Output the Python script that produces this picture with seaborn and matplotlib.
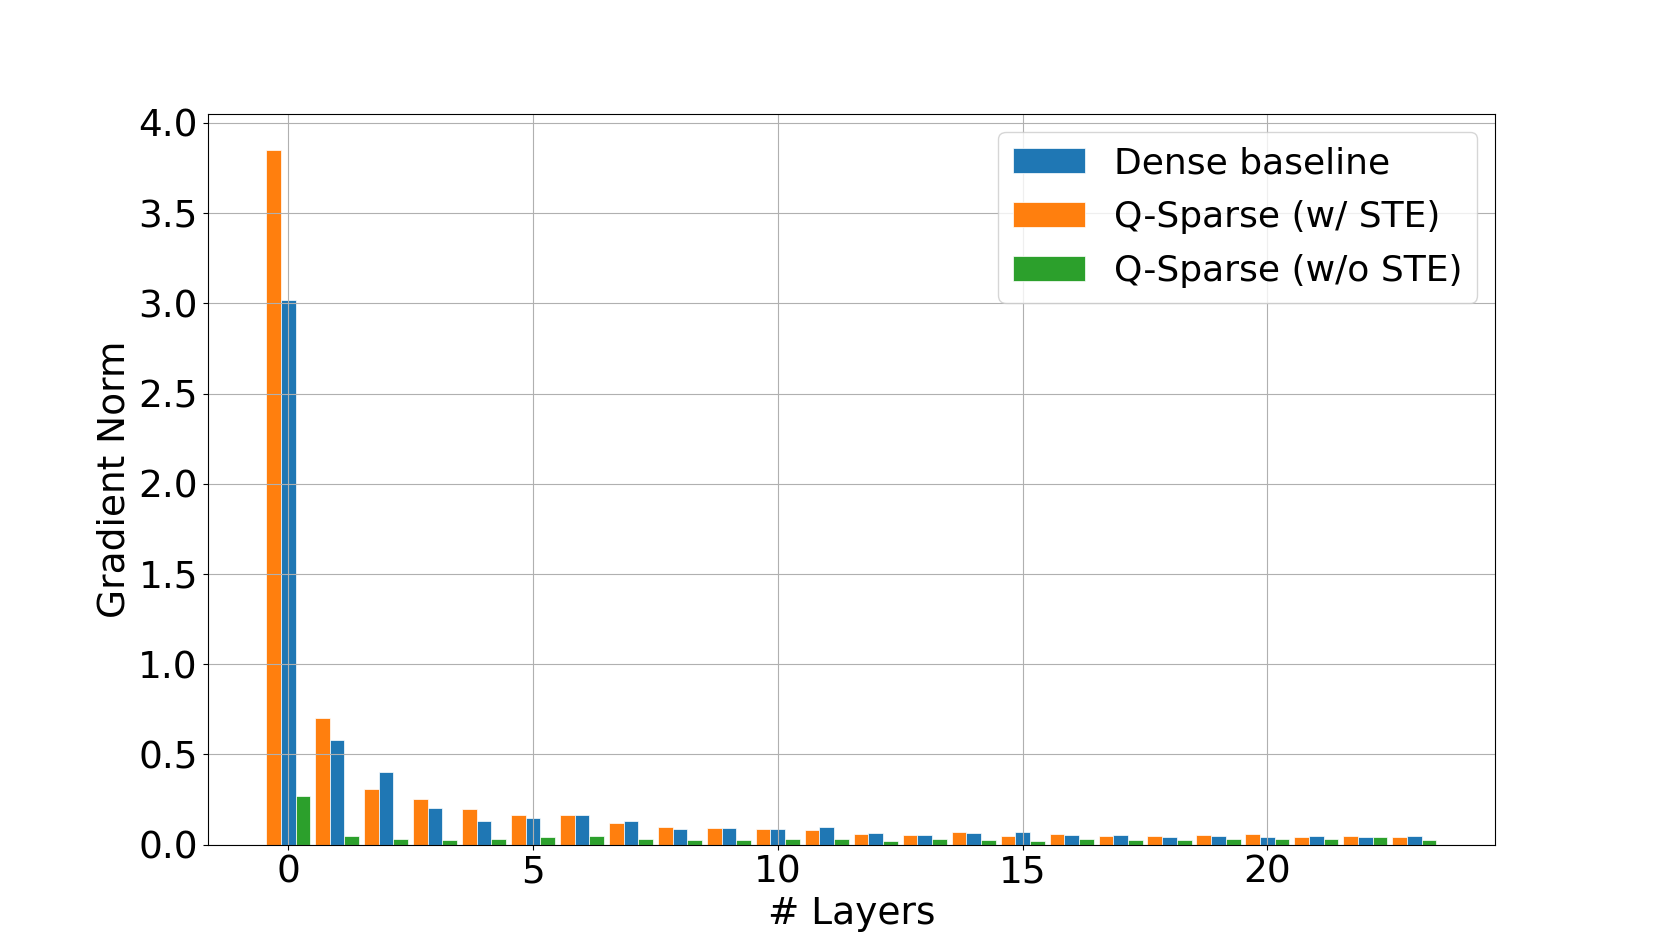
import numpy as np
import pandas as pd
import matplotlib
matplotlib.use("Agg")
import matplotlib.pyplot as plt
import seaborn as sns

# gradient norm per layer
layers = list(range(24))
dense = [3.02, 0.58, 0.40, 0.205, 0.131, 0.148, 0.164, 0.129, 0.084, 0.094,
         0.087, 0.100, 0.063, 0.054, 0.065, 0.072, 0.052, 0.054, 0.044, 0.046,
         0.042, 0.048, 0.042, 0.048]
ste = [3.85, 0.70, 0.31, 0.253, 0.198, 0.163, 0.166, 0.120, 0.097, 0.094,
       0.089, 0.083, 0.057, 0.055, 0.070, 0.048, 0.061, 0.048, 0.048, 0.055,
       0.057, 0.041, 0.050, 0.044]
no_ste = [0.268, 0.048, 0.033, 0.028, 0.031, 0.041, 0.046, 0.033, 0.026, 0.026,
          0.031, 0.030, 0.022, 0.030, 0.028, 0.022, 0.030, 0.026, 0.026, 0.031,
          0.030, 0.031, 0.044, 0.028]

names = ['Dense baseline', 'Q-Sparse (w/ STE)', 'Q-Sparse (w/o STE)']
colors = {'Dense baseline': '#1f77b4',
          'Q-Sparse (w/ STE)': '#ff7f0e',
          'Q-Sparse (w/o STE)': '#2ca02c'}

df = pd.concat([
    pd.DataFrame({'Layer': layers, 'Norm': dense, 'Method': names[0]}),
    pd.DataFrame({'Layer': layers, 'Norm': ste, 'Method': names[1]}),
    pd.DataFrame({'Layer': layers, 'Norm': no_ste, 'Method': names[2]}),
], ignore_index=True)

fig, ax = plt.subplots(figsize=(16.61, 9.49), dpi=100)
# bar order on the axis: w/ STE left, dense centre, w/o STE right
sns.barplot(data=df, x='Layer', y='Norm', hue='Method',
            hue_order=[names[1], names[0], names[2]], palette=colors,
            native_scale=True, width=0.9, saturation=1, errorbar=None,
            edgecolor='white', linewidth=0.5, ax=ax)

ax.margins(x=0.05)
ax.autoscale_view()
ax.set_xticks([0, 5, 10, 15, 20])
ax.set_ylim(0, 4.05)
ax.set_yticks(np.arange(0, 4.01, 0.5))
ax.grid(True)
ax.tick_params(axis='both', labelsize=27)
ax.set_xlabel('# Layers', fontsize=27)
ax.set_ylabel('Gradient Norm', fontsize=27)

handles, labels = ax.get_legend_handles_labels()
order = [labels.index(n) for n in names]
ax.legend([handles[i] for i in order], names, loc='upper right', fontsize=26,
          labelspacing=0.55)

plt.savefig('out.png', dpi=100)
